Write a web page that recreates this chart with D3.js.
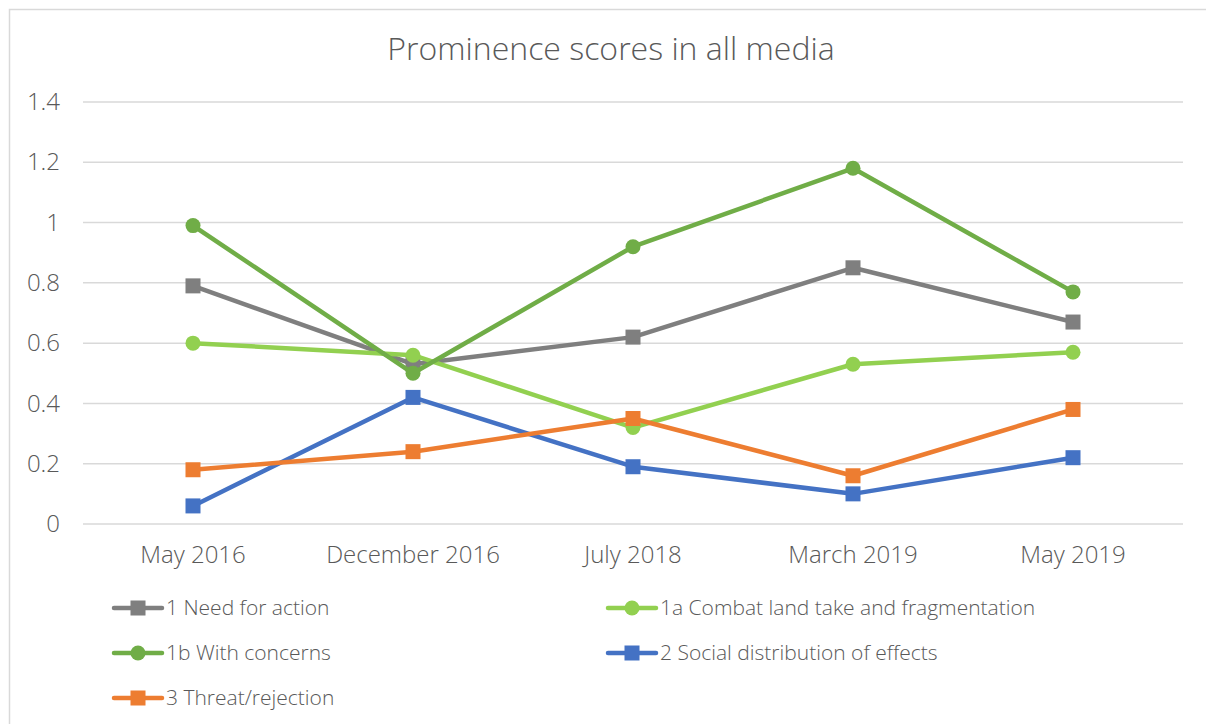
<!DOCTYPE html>
<html>
<head>
<meta charset="utf-8">
<script src="https://cdn.jsdelivr.net/npm/d3@7"></script>
<style>
  html, body { margin: 0; padding: 0; background: #fff; }
  svg { display: block; font-family: "Open Sans", Lato, sans-serif; font-weight: 300; }
</style>
</head>
<body>
<svg id="chart" width="1206" height="724"></svg>
<script>
// Survey waves along the x axis
const categories = ["May 2016", "December 2016", "July 2018", "March 2019", "May 2019"];

// Prominence score per frame, one value per wave
const needForAction   = [0.79, 0.53, 0.62, 0.85, 0.67];
const combatLandTake  = [0.60, 0.56, 0.32, 0.53, 0.57];
const withConcerns    = [0.99, 0.50, 0.92, 1.18, 0.77];
const socialDistrib   = [0.06, 0.42, 0.19, 0.10, 0.22];
const threatRejection = [0.18, 0.24, 0.35, 0.16, 0.38];

const yTicks = [0, 0.2, 0.4, 0.6, 0.8, 1, 1.2, 1.4];

const series = [
  { name: "1 Need for action", values: needForAction, color: "#7f7f7f", marker: "square" },
  { name: "1a Combat land take and fragmentation", values: combatLandTake, color: "#92d050", marker: "circle" },
  { name: "1b With concerns", values: withConcerns, color: "#70ad47", marker: "circle" },
  { name: "2 Social distribution of effects", values: socialDistrib, color: "#4472c4", marker: "square" },
  { name: "3 Threat/rejection", values: threatRejection, color: "#ed7d31", marker: "square" }
];

const svg = d3.select("#chart");
const textColor = "#595959";
const fontFamily = "'Open Sans', Lato, sans-serif";

// Outer chart frame
svg.append("rect")
  .attr("x", 9.5).attr("y", 9.5)
  .attr("width", 1220).attr("height", 740)
  .attr("fill", "#fff")
  .attr("stroke", "#d9d9d9").attr("stroke-width", 1.5);

// Title
svg.append("text")
  .attr("x", 611).attr("y", 60)
  .attr("text-anchor", "middle")
  .attr("font-size", 32)
  .attr("fill", textColor)
  .text("Prominence scores in all media");

const plot = { left: 83, right: 1183, top: 102, bottom: 524 };

const x = d3.scaleBand()
  .domain(categories)
  .range([plot.left, plot.right]);

const y = d3.scaleLinear()
  .domain([0, 1.4])
  .range([plot.bottom, plot.top]);

// Horizontal gridlines
svg.append("g")
  .selectAll("line")
  .data(yTicks)
  .join("line")
  .attr("x1", plot.left).attr("x2", plot.right)
  .attr("y1", d => y(d)).attr("y2", d => y(d))
  .attr("stroke", "#d9d9d9").attr("stroke-width", 1.5);

// Y axis labels
const yAxis = d3.axisLeft(y)
  .tickValues(yTicks)
  .tickFormat(d => String(d))
  .tickSize(0)
  .tickPadding(0);
const yAxisG = svg.append("g")
  .attr("transform", `translate(60,0)`)
  .call(yAxis);
yAxisG.select(".domain").remove();
yAxisG.selectAll("text")
  .attr("font-family", fontFamily)
  .attr("font-size", 24)
  .attr("fill", textColor);

// X axis labels
const xAxis = d3.axisBottom(x).tickSize(0).tickPadding(0);
const xAxisG = svg.append("g")
  .attr("transform", `translate(0,${plot.bottom + 22})`)
  .call(xAxis);
xAxisG.select(".domain").remove();
xAxisG.selectAll("text")
  .attr("font-family", fontFamily)
  .attr("font-size", 24)
  .attr("fill", textColor);

const cx = c => x(c) + x.bandwidth() / 2;

const line = d3.line()
  .x((d, i) => cx(categories[i]))
  .y(d => y(d));

function drawMarker(g, type, color, px, py) {
  if (type === "square") {
    g.append("rect")
      .attr("x", px - 7.5).attr("y", py - 7.5)
      .attr("width", 15).attr("height", 15)
      .attr("fill", color);
  } else {
    g.append("circle")
      .attr("cx", px).attr("cy", py).attr("r", 7.5)
      .attr("fill", color);
  }
}

// Series lines with markers
series.forEach(s => {
  const g = svg.append("g");
  g.append("path")
    .datum(s.values)
    .attr("d", line)
    .attr("fill", "none")
    .attr("stroke", s.color)
    .attr("stroke-width", 4.5)
    .attr("stroke-linejoin", "round");
  s.values.forEach((v, i) => drawMarker(g, s.marker, s.color, cx(categories[i]), y(v)));
});

// Legend
const legendPos = [
  { x: 114, y: 608 }, { x: 608, y: 608 },
  { x: 114, y: 653 }, { x: 608, y: 653 },
  { x: 114, y: 698 }
];
series.forEach((s, i) => {
  const p = legendPos[i];
  const g = svg.append("g").attr("transform", `translate(${p.x},${p.y})`);
  g.append("line")
    .attr("x1", 0).attr("x2", 48)
    .attr("y1", 0).attr("y2", 0)
    .attr("stroke", s.color).attr("stroke-width", 4.5)
    .attr("stroke-linecap", "round");
  drawMarker(g, s.marker, s.color, 24, 0);
  g.append("text")
    .attr("x", 52).attr("y", 0)
    .attr("dy", "0.35em")
    .attr("font-size", 21)
    .attr("fill", textColor)
    .text(s.name);
});
</script>
</body>
</html>
